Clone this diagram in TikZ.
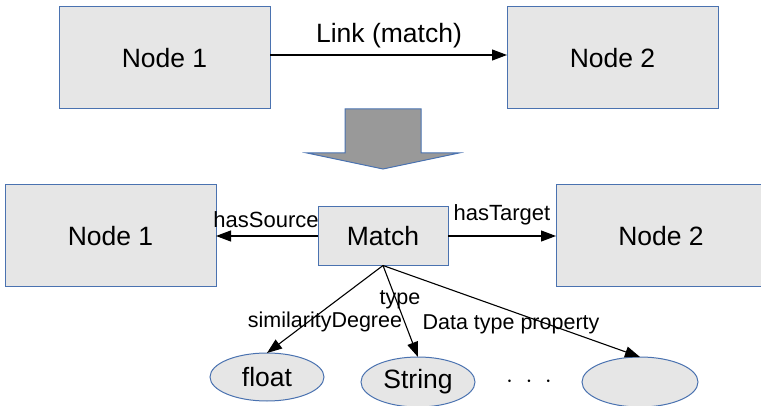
\documentclass[tikz,border=0pt]{standalone}
\usepackage{fontspec}
\setmainfont{Liberation Sans}
\usetikzlibrary{arrows.meta,shapes.geometric}
\definecolor{boxfill}{HTML}{E6E6E6}
\definecolor{boxline}{HTML}{4A72B0}
\definecolor{bigarrow}{HTML}{999999}
\tikzset{
  box/.style={draw=boxline, fill=boxfill, line width=1pt, rectangle,
    inner sep=0pt, outer sep=0pt, font=\fontsize{26.5}{30}\selectfont},
  bignode/.style={box, minimum width=211pt, minimum height=102pt},
  valnode/.style={draw=boxline, fill=boxfill, line width=1pt, ellipse,
    inner sep=0pt, outer sep=0pt, font=\fontsize{26.5}{30}\selectfont},
  rel/.style={draw=black, line width=1.1pt, -{Triangle[length=15pt,width=11pt]}},
  lbl/.style={inner sep=0pt, font=\fontsize{21.5}{24}\selectfont},
}
\begin{document}
\begin{tikzpicture}[x=1pt, y=-1pt]
\useasboundingbox (0,0) rectangle (761,406);
\clip (0,0) rectangle (761,406);

% upper diagram: a plain link between two nodes
\node[bignode] (tn1) at (164.5,58) {Node 1};
\node[bignode] (tn2) at (612.5,58) {Node 2};
\draw[rel] ([yshift=3pt]tn1.east) -- ([yshift=3pt]tn2.west);
\node[lbl, font=\fontsize{26.5}{30}\selectfont] (tlink) at (389,36) {Link (match)};

% transformation arrow
\fill[bigarrow, draw=boxline, line width=1pt, line join=miter]
  (345,109) -- (421,109) -- (421,153) -- (459,153) -- (383,169)
  -- (307,153) -- (345,153) -- cycle;

% lower diagram: the link reified as a Match node
\node[bignode] (bn1) at (110.5,236) {Node 1};
\node[bignode, minimum width=210pt] (bn2) at (661,236) {Node 2};
\node[box, minimum width=130pt, minimum height=59pt] (m) at (383,236) {Match};

\draw[rel] (m.west) -- (bn1.east);
\draw[rel] (m.east) -- (bn2.west);
\node[lbl, font=\fontsize{22}{24}\selectfont] (lsrc) at (266,220) {hasSource};
\node[lbl, font=\fontsize{22}{24}\selectfont] (ltgt) at (502,215) {hasTarget};

% data type values
\node[valnode, minimum width=114pt, minimum height=48pt] (vfloat) at (267,377) {float};
\node[valnode, minimum width=114pt, minimum height=50pt] (vstr) at (418,382) {String};
\node[valnode, minimum width=116pt, minimum height=50pt] (vany) at (640,382) {};
\node[lbl, font=\fontsize{24}{26}\selectfont] (dots) at (529,382) {$\cdot\;\cdot\;\cdot$};

\draw[rel] (m.south) -- (vfloat.north);
\draw[rel] (m.south) -- (vstr.north);
\draw[rel] (m.south) -- (vany.north);

\node[lbl] (lsim) at (325,322) {similarityDegree};
\node[lbl] (ltype) at (400,300) {type};
\node[lbl] (ldtp) at (511,324) {Data type property};
\end{tikzpicture}
\end{document}
